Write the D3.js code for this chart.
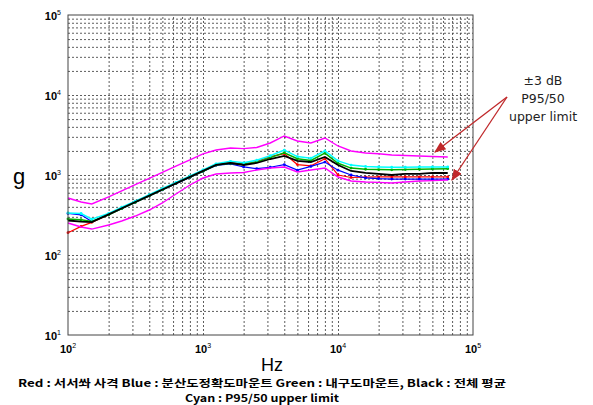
<!DOCTYPE html>
<html>
<head>
<meta charset="utf-8">
<script src="https://cdn.jsdelivr.net/npm/d3@7"></script>
<style>
body { margin: 0; background: #fff; }
</style>
</head>
<body>
<div id="container"></div>
<script>
var freq = [100, 125, 150, 200, 250, 315, 400, 500, 630, 800, 1000, 1250, 1600, 2000, 2500,
    3150, 4000, 5000, 6300, 8000, 10000, 12500, 16000, 20000, 25000, 31500, 40000, 50000, 65000];

var red = [190, 228, 256, 318, 382, 458, 550, 655, 785, 945, 1120, 1340, 1430, 1380, 1480,
    1700, 1850, 1350, 1300, 1600, 1000, 930, 940, 950, 945, 945, 945, 945, 945];
var blue = [330, 318, 262, 318, 380, 455, 548, 650, 780, 935, 1110, 1320, 1380, 1260, 1200,
    1250, 1350, 1150, 1280, 1450, 1150, 1000, 920, 900, 890, 890, 890, 890, 890];
var green = [282, 276, 262, 318, 380, 455, 548, 655, 785, 940, 1115, 1330, 1400, 1360, 1450,
    1650, 1900, 1600, 1520, 1880, 1400, 1220, 1180, 1170, 1160, 1170, 1180, 1190, 1200];
var cyan = [335, 330, 280, 330, 395, 472, 568, 677, 808, 972, 1160, 1380, 1480, 1420, 1530,
    1740, 2050, 1700, 1620, 2000, 1500, 1330, 1280, 1260, 1250, 1250, 1260, 1260, 1260];
var black = [270, 262, 258, 322, 384, 460, 553, 659, 787, 946, 1125, 1337, 1413, 1334, 1413,
    1585, 1730, 1500, 1454, 1680, 1334, 1122, 1060, 1030, 1000, 1030, 1030, 1060, 1060];
var upper = [516, 460, 434, 532, 633, 757, 910, 1081, 1290, 1546, 1841, 2053, 2175, 2138, 2208,
    2512, 3073, 2661, 2512, 2900, 2305, 1995, 1884, 1840, 1778, 1750, 1730, 1700, 1680];
var lower = [251, 224, 211, 237, 266, 307, 365, 447, 579, 750, 917, 1029, 1060, 1075, 1155,
    1223, 1259, 1091, 1155, 1223, 944, 841, 818, 808, 794, 818, 841, 851, 866];

var xTickExp = [2, 3, 4, 5];
var yTickExp = [1, 2, 3, 4, 5];
var legendLines = [
    'Red : 서서쏴 사격 Blue : 분산도정확도마운트 Green : 내구도마운트, Black : 전체 평균',
    'Cyan : P95/50 upper limit'
];
var noteLines = ['±3 dB', 'P95/50', 'upper limit'];

var width = 593, height = 405,
    plotLeft = 68, plotRight = 473, plotTop = 15, plotBottom = 335;

var svg = d3.select('#container')
    .append('svg')
    .attr('width', width)
    .attr('height', height)
    .style('font-family', 'Arial, "Liberation Sans", sans-serif');

var x = d3.scaleLog().domain([1e2, 1e5]).range([plotLeft, plotRight]);
var y = d3.scaleLog().domain([1e1, 1e5]).range([plotBottom, plotTop]);

// dotted grid, major and minor
var gx = svg.append('g')
    .attr('transform', 'translate(0,' + plotBottom + ')')
    .call(d3.axisBottom(x)
        .tickValues(x.ticks().filter(function(d) { return d > 1e2 && d < 1e5; }))
        .tickSize(-(plotBottom - plotTop))
        .tickFormat(''));
var gy = svg.append('g')
    .attr('transform', 'translate(' + plotLeft + ',0)')
    .call(d3.axisLeft(y)
        .tickValues(y.ticks().filter(function(d) { return d > 1e1 && d < 1e5; }))
        .tickSize(-(plotRight - plotLeft))
        .tickFormat(''));
[gx, gy].forEach(function(g) {
    g.select('.domain').remove();
    g.selectAll('.tick line')
        .attr('stroke', '#333')
        .attr('stroke-width', 0.8)
        .attr('stroke-dasharray', '2,2');
});

var line = d3.line()
    .x(function(d) { return x(d[0]); })
    .y(function(d) { return y(d[1]); });

var series = [
    { v: red, c: '#ff0000', w: 1.2, dots: true },
    { v: blue, c: '#0000ff', w: 1.2, dots: true },
    { v: green, c: '#00b000', w: 1.5, dots: true },
    { v: cyan, c: '#00ffff', w: 1.5, dots: true },
    { v: black, c: '#000000', w: 1.8, dots: false },
    { v: upper, c: '#ff00ff', w: 1.4, dots: false },
    { v: lower, c: '#ff00ff', w: 1.4, dots: false }
];

series.forEach(function(s) {
    var pts = freq.map(function(f, i) { return [f, s.v[i]]; });
    svg.append('path')
        .datum(pts)
        .attr('fill', 'none')
        .attr('stroke', s.c)
        .attr('stroke-width', s.w)
        .attr('d', line);
    if (s.dots) {
        svg.append('g').selectAll('circle')
            .data(pts)
            .enter()
            .append('circle')
            .attr('cx', function(d) { return x(d[0]); })
            .attr('cy', function(d) { return y(d[1]); })
            .attr('r', 1.4)
            .attr('fill', s.c);
    }
});

// frame
svg.append('rect')
    .attr('x', plotLeft).attr('y', plotTop)
    .attr('width', plotRight - plotLeft).attr('height', plotBottom - plotTop)
    .attr('fill', 'none')
    .attr('stroke', '#444')
    .attr('stroke-width', 1);

// tick labels 10^n
var xl = svg.append('g').selectAll('text')
    .data(xTickExp)
    .enter()
    .append('text')
    .attr('x', function(d) { return x(Math.pow(10, d)); })
    .attr('y', plotBottom + 18)
    .attr('text-anchor', 'middle')
    .attr('font-size', 11)
    .attr('font-weight', 'bold');
xl.append('tspan').text('10');
xl.append('tspan').attr('dy', -5).attr('font-size', 7).attr('font-weight', 'normal')
    .text(function(d) { return d; });

var yl = svg.append('g').selectAll('text')
    .data(yTickExp)
    .enter()
    .append('text')
    .attr('x', plotLeft - 7)
    .attr('y', function(d) { return y(Math.pow(10, d)) + 5; })
    .attr('text-anchor', 'end')
    .attr('font-size', 11)
    .attr('font-weight', 'bold');
yl.append('tspan').text('10');
yl.append('tspan').attr('dy', -5).attr('font-size', 7).attr('font-weight', 'normal')
    .text(function(d) { return d; });

// axis titles
svg.append('text')
    .attr('x', 272).attr('y', 371)
    .attr('text-anchor', 'middle')
    .attr('font-size', 18)
    .text('Hz');
svg.append('text')
    .attr('x', 19).attr('y', 184)
    .attr('text-anchor', 'middle')
    .attr('font-size', 22)
    .text('g');

// legend text under the chart
var legendWidths = [488, 154];
svg.append('g').selectAll('text')
    .data(legendLines)
    .enter()
    .append('text')
    .attr('x', 262)
    .attr('y', function(d, i) { return 387 + i * 14.5; })
    .attr('text-anchor', 'middle')
    .attr('font-family', '"Noto Sans CJK KR", "Noto Sans", sans-serif')
    .attr('font-weight', 'bold')
    .attr('font-size', 10.5)
    .attr('textLength', function(d, i) { return legendWidths[i]; })
    .attr('lengthAdjust', 'spacingAndGlyphs')
    .text(function(d) { return d; });

// annotation with arrows
svg.append('g').selectAll('text')
    .data(noteLines)
    .enter()
    .append('text')
    .attr('x', 543)
    .attr('y', function(d, i) { return 85 + i * 18; })
    .attr('text-anchor', 'middle')
    .attr('font-family', '"DejaVu Sans", sans-serif')
    .attr('font-size', 12.5)
    .attr('fill', '#222')
    .text(function(d) { return d; });

svg.append('defs').append('marker')
    .attr('id', 'head')
    .attr('viewBox', '0 0 10 10')
    .attr('refX', 9).attr('refY', 5)
    .attr('markerWidth', 9).attr('markerHeight', 9)
    .attr('orient', 'auto')
    .append('path')
    .attr('d', 'M0,1 L10,5 L0,9 Z')
    .attr('fill', '#c0282a');

var arrowFrom = [507, 97];
[[435, 152], [452, 180]].forEach(function(t) {
    svg.append('line')
        .attr('x1', arrowFrom[0]).attr('y1', arrowFrom[1])
        .attr('x2', t[0]).attr('y2', t[1])
        .attr('stroke', '#c0282a')
        .attr('stroke-width', 1.3)
        .attr('marker-end', 'url(#head)');
});
</script>
</body>
</html>
